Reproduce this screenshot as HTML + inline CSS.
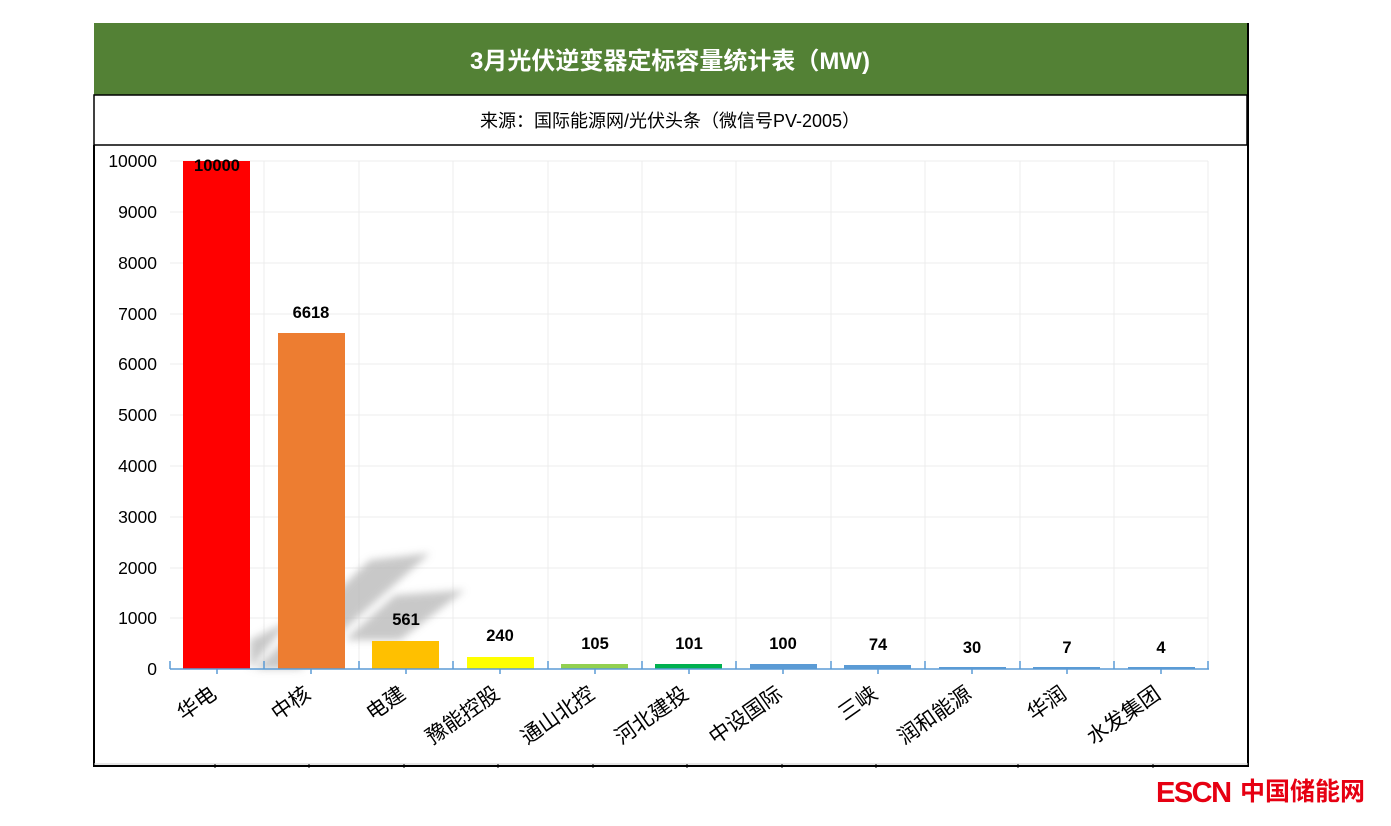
<!DOCTYPE html>
<html><head><meta charset="utf-8"><style>
body{margin:0;background:#fff;}
svg text{font-family:"Liberation Sans","Noto Sans CJK SC",sans-serif;}
</style></head><body>
<svg width="1391" height="821" viewBox="0 0 1391 821" xmlns="http://www.w3.org/2000/svg">
<defs><filter id="bl"><feGaussianBlur stdDeviation="4"/></filter></defs>
<rect x="94" y="23" width="1153" height="72" fill="#538135"/>
<text x="670" y="69" font-size="24" font-weight="bold" fill="#fff" text-anchor="middle">3月光伏逆变器定标容量统计表（MW)</text>
<rect x="94" y="95" width="1153" height="50" fill="#fff" stroke="#000" stroke-width="1.5"/>
<text x="670" y="127" font-size="18" fill="#000" text-anchor="middle">来源：国际能源网/光伏头条（微信号PV-2005）</text>
<path d="M94 145 V766 H1248 V23" fill="none" stroke="#000" stroke-width="2"/>
<line x1="94" y1="764" x2="1248" y2="764" stroke="#ccc" stroke-width="1"/>
<g stroke="#000" stroke-width="1">
<line x1="215" y1="764" x2="215" y2="768"/><line x1="309" y1="764" x2="309" y2="768"/><line x1="404" y1="764" x2="404" y2="768"/><line x1="498" y1="764" x2="498" y2="768"/><line x1="593" y1="764" x2="593" y2="768"/><line x1="687" y1="764" x2="687" y2="768"/><line x1="782" y1="764" x2="782" y2="768"/><line x1="876" y1="764" x2="876" y2="768"/><line x1="1018" y1="764" x2="1018" y2="768"/><line x1="1153" y1="764" x2="1153" y2="768"/>
</g>
<g stroke="#ececec" stroke-width="1">
<line x1="170" y1="161" x2="1208" y2="161"/><line x1="170" y1="212" x2="1208" y2="212"/><line x1="170" y1="263" x2="1208" y2="263"/><line x1="170" y1="314" x2="1208" y2="314"/><line x1="170" y1="364" x2="1208" y2="364"/><line x1="170" y1="415" x2="1208" y2="415"/><line x1="170" y1="466" x2="1208" y2="466"/><line x1="170" y1="517" x2="1208" y2="517"/><line x1="170" y1="568" x2="1208" y2="568"/><line x1="170" y1="618" x2="1208" y2="618"/>
<line x1="264" y1="161" x2="264" y2="669"/><line x1="359" y1="161" x2="359" y2="669"/><line x1="453" y1="161" x2="453" y2="669"/><line x1="548" y1="161" x2="548" y2="669"/><line x1="642" y1="161" x2="642" y2="669"/><line x1="736" y1="161" x2="736" y2="669"/><line x1="831" y1="161" x2="831" y2="669"/><line x1="925" y1="161" x2="925" y2="669"/><line x1="1020" y1="161" x2="1020" y2="669"/><line x1="1114" y1="161" x2="1114" y2="669"/><line x1="1208" y1="161" x2="1208" y2="669"/>
</g>
<g fill="#bbb" filter="url(#bl)" opacity="0.8">
<polygon points="250,640 290,620 250,669"/>
<polygon points="255,669 370,560 430,553 300,669"/>
<polygon points="345,640 395,595 465,590 400,640"/>
</g>
<g font-size="17.5" fill="#000" text-anchor="end">
<text x="157" y="167">10000</text><text x="157" y="218">9000</text><text x="157" y="269">8000</text><text x="157" y="320">7000</text><text x="157" y="370">6000</text><text x="157" y="421">5000</text><text x="157" y="472">4000</text><text x="157" y="523">3000</text><text x="157" y="574">2000</text><text x="157" y="624">1000</text><text x="157" y="675">0</text>
</g>
<rect x="183" y="161" width="67" height="508" fill="#ff0000"/>
<rect x="278" y="333" width="67" height="336" fill="#ed7d31"/>
<rect x="372" y="641" width="67" height="28" fill="#ffc000"/>
<rect x="467" y="657" width="67" height="12" fill="#ffff00"/>
<rect x="561" y="664" width="67" height="5" fill="#92d050"/>
<rect x="655" y="664" width="67" height="5" fill="#00b050"/>
<rect x="750" y="664" width="67" height="5" fill="#5b9bd5"/>
<rect x="844" y="665" width="67" height="4" fill="#5b9bd5"/>
<rect x="939" y="667" width="67" height="2" fill="#5b9bd5"/>
<rect x="1033" y="667" width="67" height="2" fill="#5b9bd5"/>
<rect x="1128" y="667" width="67" height="2" fill="#5b9bd5"/>
<g stroke="#5b9bd5" stroke-width="1.5">
<line x1="170" y1="669" x2="1209" y2="669"/>
<line x1="170" y1="661" x2="170" y2="669"/><line x1="264" y1="661" x2="264" y2="669"/><line x1="359" y1="661" x2="359" y2="669"/><line x1="453" y1="661" x2="453" y2="669"/><line x1="548" y1="661" x2="548" y2="669"/><line x1="642" y1="661" x2="642" y2="669"/><line x1="736" y1="661" x2="736" y2="669"/><line x1="831" y1="661" x2="831" y2="669"/><line x1="925" y1="661" x2="925" y2="669"/><line x1="1020" y1="661" x2="1020" y2="669"/><line x1="1114" y1="661" x2="1114" y2="669"/><line x1="1208" y1="661" x2="1208" y2="669"/>
<line x1="217" y1="669" x2="217" y2="674"/><line x1="311" y1="669" x2="311" y2="674"/><line x1="406" y1="669" x2="406" y2="674"/><line x1="500" y1="669" x2="500" y2="674"/><line x1="595" y1="669" x2="595" y2="674"/><line x1="689" y1="669" x2="689" y2="674"/><line x1="783" y1="669" x2="783" y2="674"/><line x1="878" y1="669" x2="878" y2="674"/><line x1="972" y1="669" x2="972" y2="674"/><line x1="1067" y1="669" x2="1067" y2="674"/><line x1="1161" y1="669" x2="1161" y2="674"/>
</g>
<g font-size="16.5" font-weight="bold" fill="#000" text-anchor="middle">
<text x="217" y="171">10000</text><text x="311" y="318">6618</text><text x="406" y="625">561</text><text x="500" y="641">240</text><text x="595" y="649">105</text><text x="689" y="649">101</text><text x="783" y="649">100</text><text x="878" y="650">74</text><text x="972" y="653">30</text><text x="1067" y="653">7</text><text x="1161" y="653">4</text>
</g>
<g font-size="21" fill="#000" text-anchor="end">
<text transform="translate(218,697) rotate(-35)">华电</text>
<text transform="translate(312,697) rotate(-35)">中核</text>
<text transform="translate(407,697) rotate(-35)">电建</text>
<text transform="translate(501,697) rotate(-35)">豫能控股</text>
<text transform="translate(596,697) rotate(-35)">通山北控</text>
<text transform="translate(690,697) rotate(-35)">河北建投</text>
<text transform="translate(784,697) rotate(-35)">中设国际</text>
<text transform="translate(879,697) rotate(-35)">三峡</text>
<text transform="translate(973,697) rotate(-35)">润和能源</text>
<text transform="translate(1068,697) rotate(-35)">华润</text>
<text transform="translate(1162,697) rotate(-35)">水发集团</text>
</g>
<text x="1156" y="802" font-size="29" font-weight="bold" fill="#e60012" letter-spacing="-1.5">ESCN</text>
<text x="1240" y="800" font-size="25" font-weight="bold" fill="#e60012">中国储能网</text>
</svg>
</body></html>
